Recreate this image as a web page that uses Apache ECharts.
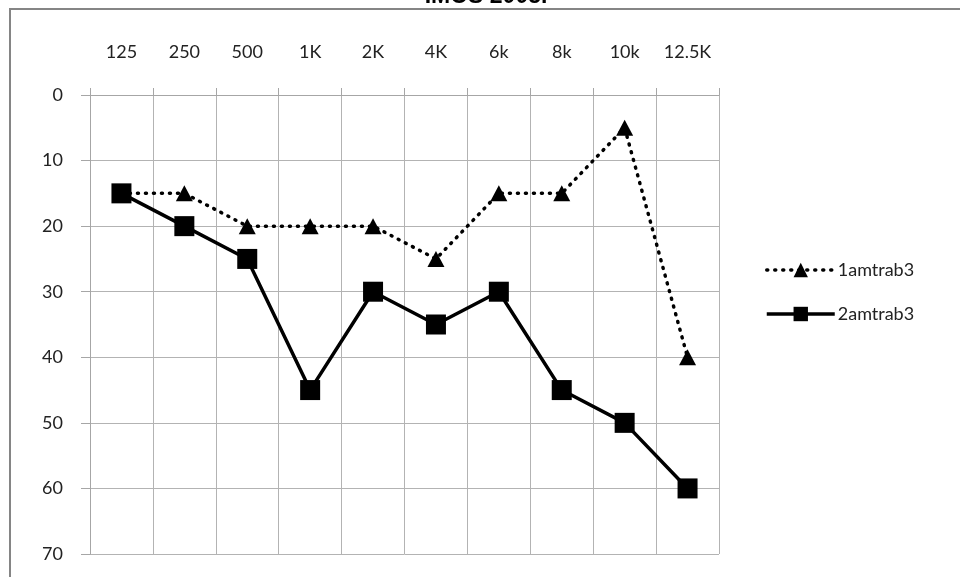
<!DOCTYPE html>
<html>
<head>
<meta charset="utf-8">
<script src="https://cdn.jsdelivr.net/npm/echarts@6/dist/echarts.min.js"></script>
<style>html,body{margin:0;padding:0;background:#fff;}#c{width:960px;height:577px;}</style>
</head>
<body>
<div id="c"></div>
<script>
const categories = ['125','250','500','1K','2K','4K','6k','8k','10k','12.5K'];
const series1Name = '1amtrab3';
const series1 = [15, 15, 20, 20, 20, 25, 15, 15, 5, 40];
const series2Name = '2amtrab3';
const series2 = [15, 20, 25, 45, 30, 35, 30, 45, 50, 60];
const yTicks = { min: 0, max: 70, interval: 10 };
const titleText = 'IMOS 2005.';

const chart = echarts.init(document.getElementById('c'), null, {renderer: 'canvas'});
const font = 'Lato, "Open Sans", sans-serif';
chart.setOption({
  animation: false,
  backgroundColor: '#fff',
  graphic: [{
    type: 'text', z: 99, silent: true,
    style: {x: 486, y: 8, text: titleText, align: 'center', verticalAlign: 'bottom',
      fontFamily: 'Liberation Sans, Arial, sans-serif', fontSize: 23, fontWeight: 'bold', fill: '#000'}
  }, {
    type: 'rect', z: 100, silent: true,
    shape: {x: 10, y: 9, width: 1000, height: 1000},
    style: {fill: 'none', stroke: '#858585', lineWidth: 2}
  }],
  grid: {left: 90, right: 241, top: 95, bottom: 23, containLabel: false},
  legend: {
    orient: 'vertical', left: 760, top: 256, itemGap: 26, itemWidth: 68, itemHeight: 18,
    textStyle: {fontFamily: font, fontSize: 18, color: '#222', padding: [0,0,0,-2]},
    lineStyle: {width: 3.5},
    data: [series1Name, series2Name]
  },
  xAxis: {
    type: 'category', position: 'top', data: categories, boundaryGap: true,
    axisLine: {show: true, lineStyle: {color: '#a6a6a6', width: 1}},
    axisTick: {show: true, length: 7, inside: false, lineStyle: {color: '#a6a6a6'}},
    splitLine: {show: true, lineStyle: {color: '#b3b3b3', width: 1}},
    axisLabel: {margin: 34, fontFamily: font, fontSize: 18, color: '#222'}
  },
  yAxis: {
    type: 'value', inverse: true, min: yTicks.min, max: yTicks.max, interval: yTicks.interval,
    axisLine: {show: true, lineStyle: {color: '#a6a6a6', width: 1}},
    axisTick: {show: true, length: 9, lineStyle: {color: '#a6a6a6'}},
    splitLine: {show: true, lineStyle: {color: '#b3b3b3', width: 1}},
    axisLabel: {margin: 27, fontFamily: font, fontSize: 18, color: '#222'}
  },
  series: [
    {
      name: series1Name, type: 'line', data: series1,
      symbol: 'triangle', symbolSize: [17, 16],
      lineStyle: {color: '#000', width: 3.5, type: [1, 7], cap: 'round'},
      itemStyle: {color: '#000'},
      z: 3
    },
    {
      name: series2Name, type: 'line', data: series2,
      symbol: 'rect', symbolSize: 20,
      lineStyle: {color: '#000', width: 3.5, type: 'solid'},
      itemStyle: {color: '#000'},
      z: 4
    }
  ]
});
</script>
</body>
</html>
